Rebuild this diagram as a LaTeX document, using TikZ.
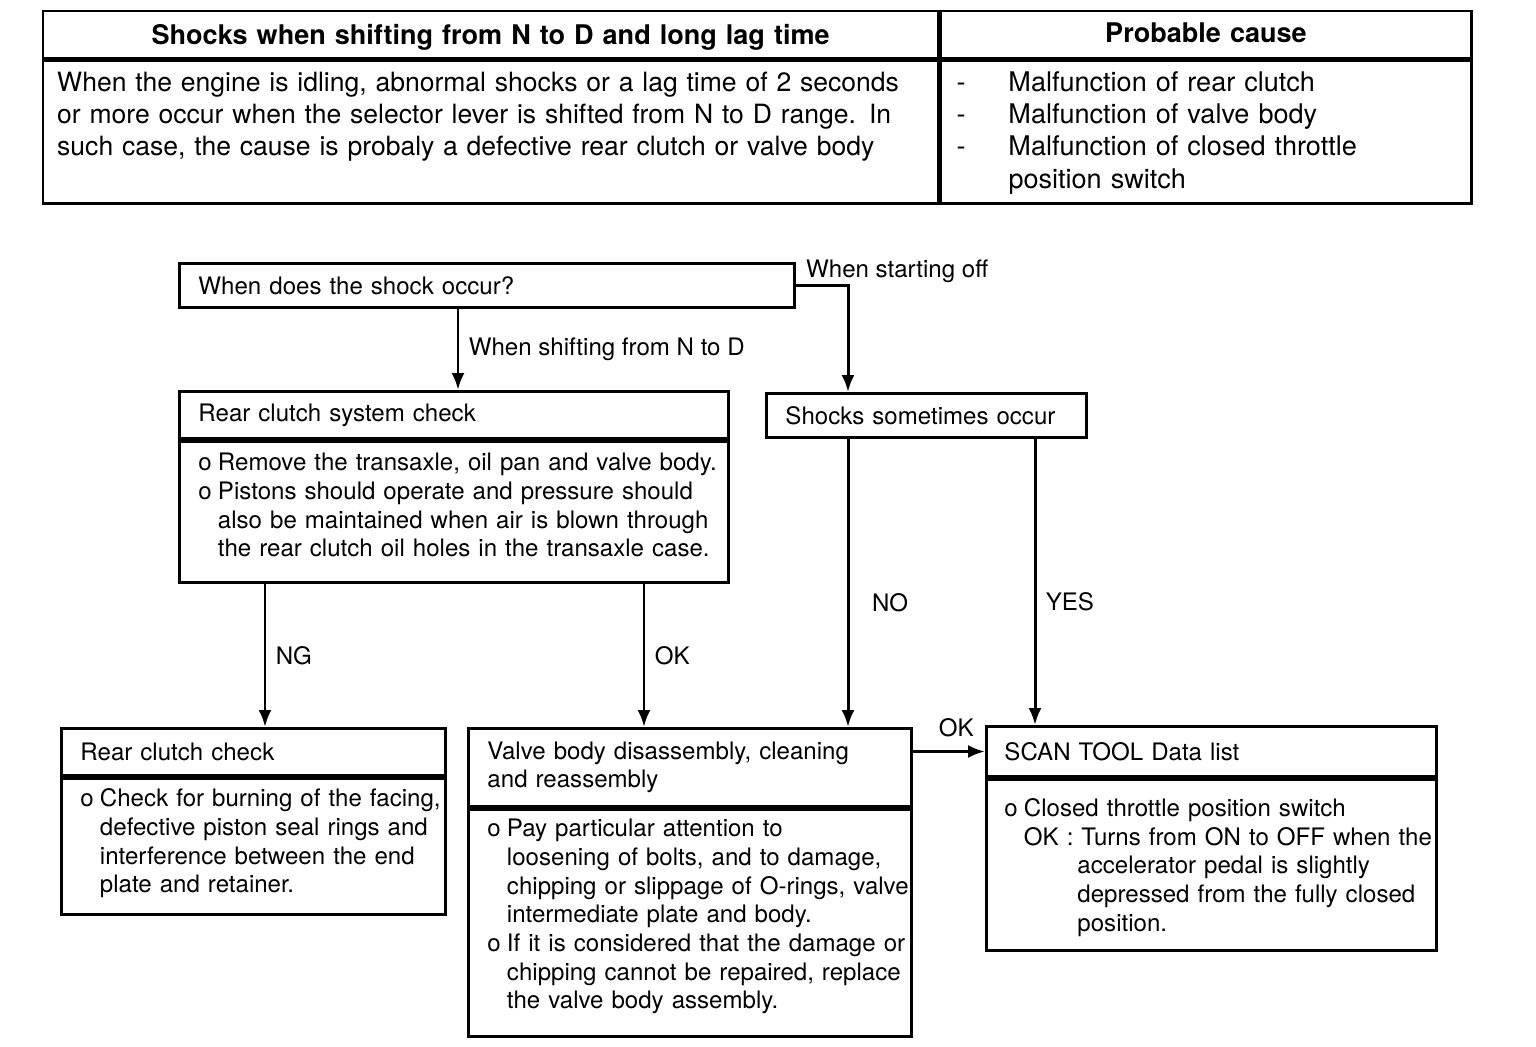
\documentclass[tikz,border=0pt]{standalone}
\usepackage{fontspec}
\setmainfont{TeX Gyre Heros}
\usepackage{tikz}
\usetikzlibrary{calc}
\usetikzlibrary{positioning}
\usetikzlibrary{arrows.meta}
\tikzset{>={Latex[length=3.4mm,width=2.6mm]}}
\newcommand{\fcfont}{\fontsize{13.7}{16.3}\selectfont}
\newcommand{\tbfont}{\fontsize{15.4}{18.4}\selectfont}
\newcommand{\bul}{\makebox[0.39cm][l]{o}}
\newcommand{\cnt}{\hspace*{0.39cm}}
\newcommand{\dsh}{\makebox[1.04cm][l]{-}}
\tikzset{
  chartbox/.style={draw, line width=1.7pt, inner xsep=0pt, inner ysep=0pt, anchor=north west,
    align=left, execute at begin node={\leftskip=0.38cm}},
  cellbox/.style={draw, line width=1.4pt, inner xsep=0pt, inner ysep=0pt, anchor=north west, font=\tbfont},
  boxsize/.style 2 args={minimum width=#1, text width=#1, minimum height=#2},
  % first baseline below the top, rest of the height below it
  textpos/.style 2 args={text height=#1, text depth=#2},
}

\begin{document}
\begin{tikzpicture}[x=0.02cm,y=-0.02cm,font=\fcfont,line width=1.7pt]
    \useasboundingbox (0,0) rectangle (1536,1046);
    % table on top
    \node[cellbox,boxsize={17.9cm}{0.94cm},textpos={0.67cm}{0.27cm},align=center,font=\tbfont\bfseries] (sym-hd) at (42,10)
      {Shocks when shifting from N to D and long lag time};
    \node[cellbox,boxsize={10.62cm}{0.94cm},textpos={0.62cm}{0.32cm},align=center,font=\tbfont\bfseries] (cause-hd) at (sym-hd.north east)
      {Probable cause};
    \node[cellbox,boxsize={17.9cm}{2.86cm},textpos={0.61cm}{2.25cm},align=left,font=\fontsize{15.1}{18.4}\selectfont,
      execute at begin node={\leftskip=0.28cm}] (sym) at (sym-hd.south west)
      {When the engine is idling, abnormal shocks or a lag time of 2 seconds\\
       or more occur when the selector lever is shifted from N to D range. In\\
       such case, the cause is probaly a defective rear clutch or valve body};
    \node[cellbox,boxsize={10.62cm}{2.86cm},textpos={0.61cm}{2.25cm},align=left,
      execute at begin node={\leftskip=0.32cm}] (cause) at (cause-hd.south west)
      {\dsh Malfunction of rear clutch\\
       \dsh Malfunction of valve body\\
       \dsh Malfunction of closed throttle\\
       \hspace*{1.04cm}position switch};
    % flow chart
    \node[chartbox,boxsize={12.3cm}{0.88cm}] (q) at (178,262) {When does the shock occur?};
    \node[chartbox,boxsize={10.98cm}{0.94cm}] (rcsys-t) at (178,390) {Rear clutch system check};
    \node[chartbox,boxsize={10.98cm}{2.82cm},textpos={0.59cm}{2.23cm}] (rcsys-b) at (rcsys-t.south west)
      {\bul Remove the transaxle, oil pan and valve body.\\
       \bul Pistons should operate and pressure should\\
       \cnt also be maintained when air is blown through\\
       \cnt the rear clutch oil holes in the transaxle case.};
    \node[chartbox,boxsize={6.4cm}{0.88cm}] (sso) at (765,392) {Shocks sometimes occur};
    \node[chartbox,boxsize={7.68cm}{0.94cm}] (rcc-t) at (60,727) {Rear clutch check};
    \node[chartbox,boxsize={7.68cm}{2.72cm},textpos={0.57cm}{2.15cm}] (rcc-b) at (rcc-t.south west)
      {\bul Check for burning of the facing,\\
       \cnt defective piston seal rings and\\
       \cnt interference between the end\\
       \cnt plate and retainer.};
    \node[chartbox,boxsize={8.86cm}{1.56cm}] (vb-t) at (467,727)
      {Valve body disassembly, cleaning\\ and reassembly};
    \node[chartbox,boxsize={8.86cm}{4.54cm},textpos={0.55cm}{3.99cm}] (vb-b) at (vb-t.south west)
      {\bul Pay particular attention to\\
       \cnt loosening of bolts, and to damage,\\
       \cnt chipping or slippage of O-rings, valve\\
       \cnt intermediate plate and body.\\
       \bul If it is considered that the damage or\\
       \cnt chipping cannot be repaired, replace\\
       \cnt the valve body assembly.};
    \node[chartbox,boxsize={9cm}{1cm},execute at begin node={\leftskip=0.36cm}] (scan-t) at (985,725) {SCAN TOOL Data list};
    \node[chartbox,boxsize={9cm}{3.42cm},textpos={0.74cm}{2.68cm},execute at begin node={\leftskip=0.36cm}] (scan-b) at (scan-t.south west)
      {\bul Closed throttle position switch\\
       \hspace*{0.39cm}OK : Turns from ON to OFF when the\\
       \hspace*{1.46cm}accelerator pedal is slightly\\
       \hspace*{1.46cm}depressed from the fully closed\\
       \hspace*{1.46cm}position.};
    % connectors
    \coordinate (in-rcsys) at ($(rcsys-t.north west)+(280,0)$);
    \coordinate (in-sso) at ($(sso.north west)+(83,0)$);
    \coordinate (ng) at ($(rcsys-b.south west)+(87,0)$);
    \coordinate (ok) at ($(rcsys-b.south west)+(466,0)$);
    \coordinate (no) at ($(sso.south west)+(83,0)$);
    \coordinate (yes) at ($(sso.south west)+(270,0)$);
    \draw[->] (q.south -| in-rcsys) -- node[right=2pt] {When shifting from N to D} (in-rcsys);
    \draw[->] (q.east) node[above right,inner sep=2pt,xshift=3pt,yshift=-1pt] {When starting off} -| (in-sso);
    \draw[->] (ng) -- node[right=2pt] {NG} (ng |- rcc-t.north);
    \draw[->] (ok) -- node[right=2pt] {OK} (ok |- vb-t.north);
    \draw[->] (no) -- node[pos=.57,right=9.5pt] {NO} (no |- vb-t.north);
    \draw[->] (yes) -- node[pos=.57,right=2pt] {YES} (yes |- scan-t.north);
    \draw[->] (scan-t.west -| vb-t.east) -- node[pos=.6,above=4pt] {OK} (scan-t.west);
\end{tikzpicture}
\end{document}
